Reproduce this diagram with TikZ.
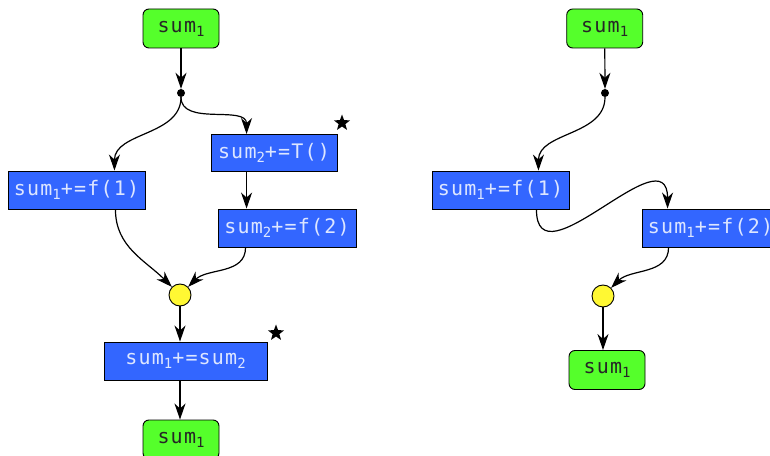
\documentclass[tikz,border=0pt]{standalone}
\usepackage{fontspec}
\setmonofont[LetterSpace=6]{DejaVu Sans Mono}
\usetikzlibrary{positioning,shapes.geometric,arrows.meta}
\definecolor{vargreen}{HTML}{55FF2B}
\definecolor{opblue}{HTML}{3366FF}
\definecolor{joinyellow}{HTML}{FFF833}
\definecolor{optext}{HTML}{DDE6FF}
\newcommand{\ix}[1]{\raisebox{-0.35ex}{\fontsize{14}{14}\selectfont #1}}
\tikzset{var node/.style={rectangle,rounded corners=6pt,draw,line width=0.9pt,
fill=vargreen,minimum width=76pt,minimum height=39pt,
font=\ttfamily\fontsize{20}{20}\selectfont,text=black!85},
op node/.style={rectangle,draw,line width=0.9pt,fill=opblue,minimum height=38pt,
font=\ttfamily\fontsize{20}{20}\selectfont,text=optext},
fork node/.style={circle,fill=black,inner sep=0pt,minimum size=8pt},
join node/.style={circle,draw,line width=0.9pt,fill=joinyellow,inner sep=0pt,
minimum size=22pt},
mark node/.style={star,star points=5,star point ratio=2.4,fill=black,
inner sep=0pt,minimum size=17pt},
flow/.style={-{Stealth[length=16pt,width=11pt,inset=5pt]},line width=1.2pt}}

\begin{document}
\begin{tikzpicture}[x=1pt,y=1pt]
\useasboundingbox (0,0) rectangle (770,455);
\clip (0,0) rectangle (770,455);
% parallel version
\node[var node] (top1) at (181,426.5) {sum\ix{1}};
\node[fork node] (dotL) at (181,362) {};
\node[op node,minimum width=137pt] (s1f1) at (76.5,265) {sum\ix{1}+=f(1)};
\node[op node,minimum width=126pt,minimum height=37pt] (s2T) at (274,302) {sum\ix{2}+=T()};
\node[op node,minimum width=138pt] (s2f2) at (287,227) {sum\ix{2}+=f(2)};
\node[join node] (yL) at (180,160) {};
\node[op node,minimum width=163pt] (s1s2) at (185.5,94) {sum\ix{1}+=sum\ix{2}};
\node[var node] (bot1) at (181,15.5) {sum\ix{1}};
\node[mark node] (star1) at (342,332) {};
\node[mark node] (star2) at (276,122) {};

\path[draw,flow] (top1)--(dotL);
\path[draw,flow] (dotL) to[out=-90,in=90] ([xshift=-31pt]s1f1.north east);
\path[draw,flow] (dotL) to[out=-90,in=90] ([xshift=36pt]s2T.north west);
\path[draw,flow] ([xshift=36pt]s2T.south west)--([xshift=36pt]s2T.south west |- s2f2.north);
\path[draw,flow] ([xshift=-30pt]s1f1.south east) to[out=-90,in=135] (yL);
\path[draw,flow] ([xshift=28pt]s2f2.south west) to[out=-90,in=45] (yL);
\path[draw,flow] (yL)--(yL |- s1s2.north);
\path[draw,flow] (yL |- s1s2.south)--(yL |- bot1.north);

% serial version
\node[var node] (top2) at (604.7,426.5) {sum\ix{1}};
\node[fork node] (dotR) at (605,362) {};
\node[op node,minimum width=137pt] (r1) at (500.5,265) {sum\ix{1}+=f(1)};
\node[op node,minimum width=137pt] (r2) at (710.5,227) {sum\ix{1}+=f(2)};
\node[join node] (yR) at (603,159) {};
\node[var node] (bot2) at (607,85) {sum\ix{1}};

\path[draw,flow] (top2)--(dotR);
\path[draw,flow] (dotR) to[out=-90,in=90] ([xshift=-31pt]r1.north east);
\path[draw,flow] ([xshift=-33pt]r1.south east) to[out=-90,in=90,looseness=1.5] ([xshift=26pt]r2.north west);
\path[draw,flow] ([xshift=27pt]r2.south west) to[out=-90,in=45] (yR);
\path[draw,flow] (yR)--(yR |- bot2.north);
\end{tikzpicture}
\end{document}
